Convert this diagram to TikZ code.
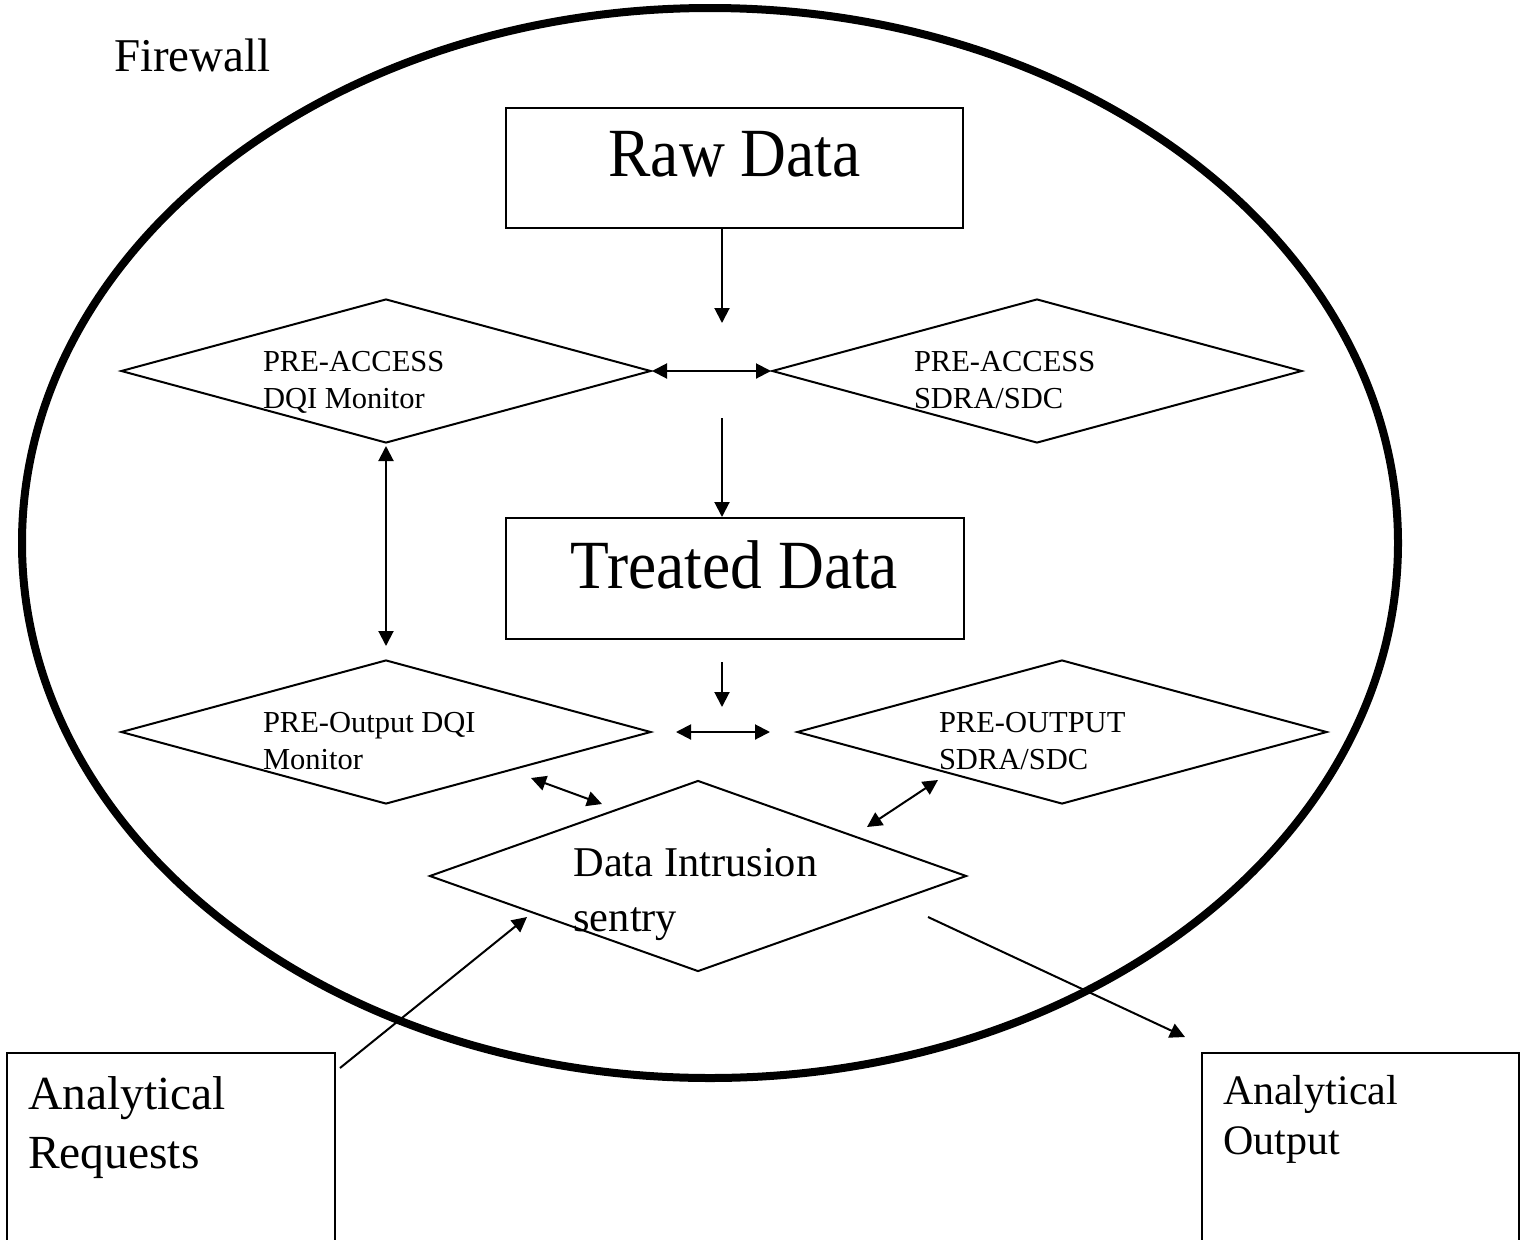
\documentclass[tikz,border=0pt]{standalone}
\usepackage{fontspec}
\setmainfont{Liberation Serif}
\newfontfamily\datafamily[FakeStretch=0.92]{Liberation Serif}
\usepackage{tikz}
\usetikzlibrary{positioning}
\usetikzlibrary{arrows.meta}
\usetikzlibrary{shapes.geometric}

\begin{document}
\begin{tikzpicture}[ x = 1pt, y = -1pt
                     , line width = 2pt
                     , >={Triangle[width=15pt, length=15pt]}
                     , databox/.style = { rectangle
                                        , draw = black
                                        , inner sep = 0pt
                                        , align = flush center
                                        , font = \datafamily\fontsize{69}{83}\selectfont }
                     , gate/.style = { diamond
                                     , draw = black
                                     , aspect = 4
                                     , inner sep = 0pt
                                     , text width = 246pt
                                     , align = flush left
                                     , text height = 0pt
                                     , text depth = 0pt
                                     , minimum width = 530pt
                                     , minimum height = 144pt
                                     , font = \fontsize{30.5}{37.5}\selectfont }
                     , askbox/.style = { rectangle
                                       , draw = black
                                       , anchor = north west
                                       , inner xsep = 21pt
                                       , inner ysep = 0pt
                                       , align = flush left }
                     ]
  \useasboundingbox (0,0) rectangle (1524,1240);

  %%
  %% Firewall
  %%
  \draw[line width = 8pt] (710,543) ellipse [x radius = 688, y radius = 535];
  \node (fw) [anchor = base west, inner sep = 0pt, font = \fontsize{47}{56}\selectfont]
        at (113,71) {Firewall};

  %%
  %% Nodes
  %%
  \node (raw) [databox, anchor = north west, text width = 457pt,
               text height = 68pt, text depth = 52pt] at (505,107) {Raw Data};
  \node (treated) [databox, below = 288pt of raw, text width = 458pt,
                   text height = 70pt, text depth = 51pt] {Treated Data};
  \node (pad) [gate] at (386,371) {PRE-ACCESS\\DQI Monitor};
  \node (pas) [gate, right = 119pt of pad] {PRE-ACCESS\\SDRA/SDC};
  \node (pod) [gate, below = 215pt of pad] {PRE-Output DQI\\Monitor};
  \node (pos) [gate, right = 144pt of pod] {PRE-OUTPUT\\SDRA/SDC};
  \node (dis) [gate, minimum width = 537pt, minimum height = 191pt, text width = 249pt,
               font = \fontsize{42.4}{55}\selectfont] at (698,876) {Data Intrusion\\sentry};
  \node (areq) [askbox, text width = 286pt, text height = 56pt, text depth = 152pt,
                font = \fontsize{47.5}{59}\selectfont] at (6,1052) {Analytical\\Requests};
  \node (aout) [askbox, text width = 275pt, text height = 51pt, text depth = 157pt,
                font = \fontsize{42}{50}\selectfont] at (1201,1052) {Analytical\\Output};

  % free ends of the short arrows
  \coordinate (accin)  at (722,323);
  \coordinate (accout) at (722,418);
  \coordinate (outin)  at (722,707);
  \coordinate (lq1) at (531,778);
  \coordinate (lq2) at (602,804);
  \coordinate (rq1) at (867,827);
  \coordinate (rq2) at (938,780);
  \coordinate (reqin)  at (527,917);
  \coordinate (disout) at (928,917);

  %%
  %% Arrows
  %%
  \draw[->] (accin |- raw.south) -- (accin);
  \draw[<->] (pad.east) -- (pas.west);
  \draw[->] (accout) -- (accout |- treated.north);
  \draw[->, shorten <= 22pt] (outin |- treated.south) -- (outin);
  \draw[<->, shorten <= 24pt, shorten >= 26pt] (pod.east) -- (pos.west);
  \draw[<->, shorten <= 2pt, shorten >= 13pt] (pad.south) -- (pod.north);
  \draw[<->] (lq1) -- (lq2);
  \draw[<->] (rq1) -- (rq2);
  \draw[->] ([shift = {(4,16)}]areq.north east) -- (reqin);
  \draw[->] (disout) -- ([shift = {(-16,-15)}]aout.north west);
\end{tikzpicture}
\end{document}
